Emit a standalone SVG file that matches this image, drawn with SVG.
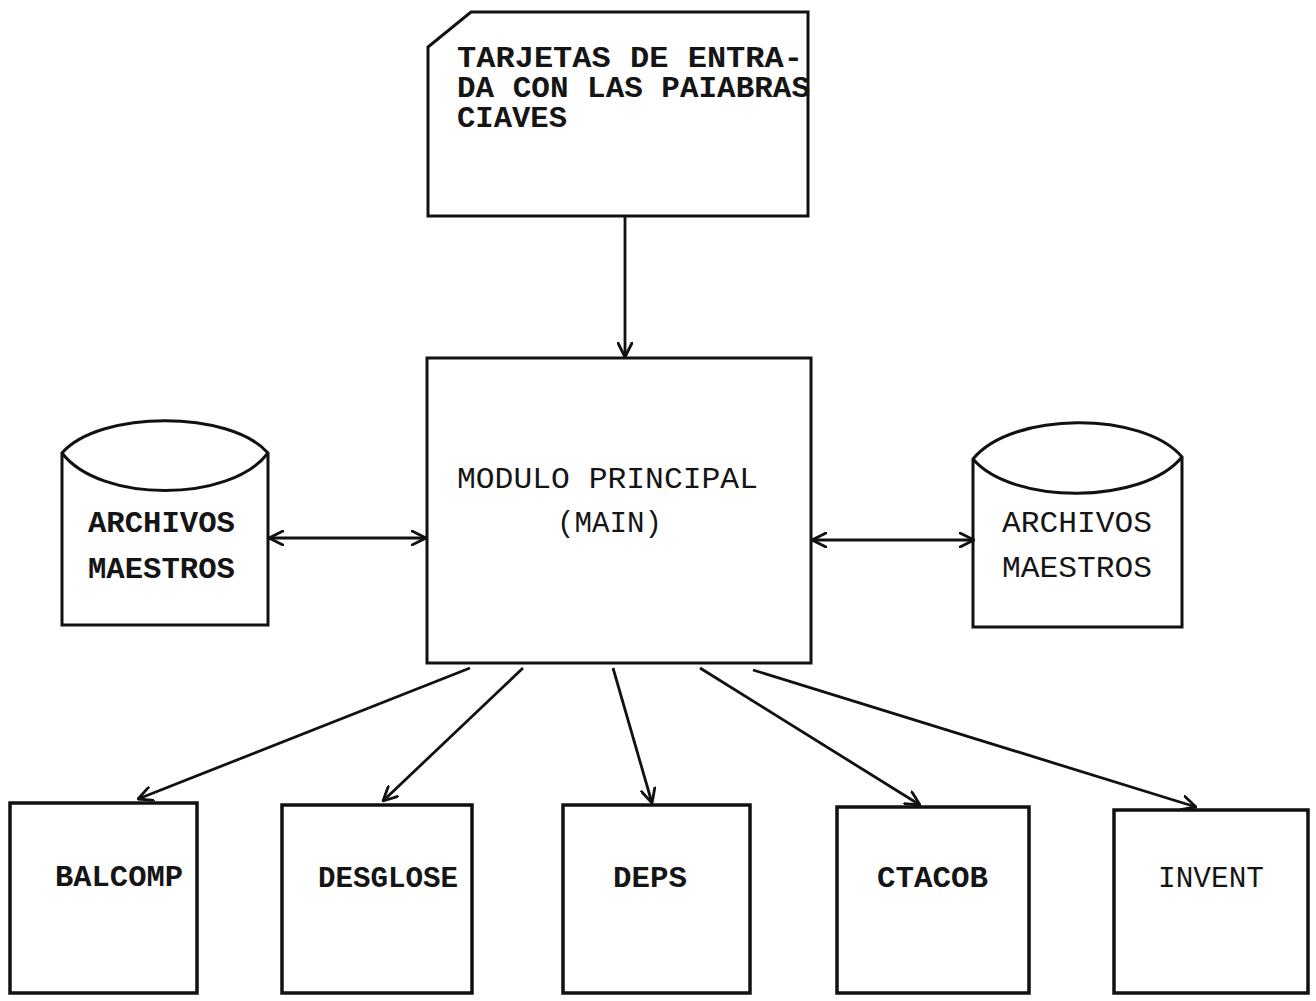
<svg xmlns="http://www.w3.org/2000/svg" width="1316" height="1001" viewBox="0 0 1316 1001">
  <style>
    .shape { fill: #ffffff; stroke: #111111; stroke-width: 3; stroke-linejoin: miter; }
    .box { fill: #ffffff; stroke: #111111; stroke-width: 3.5; }
    .lbl { font-family: "Liberation Mono", "DejaVu Sans Mono", monospace; font-size: 29px; fill: #151515; }
    .b { font-weight: bold; }
    .conn { stroke: #111111; stroke-width: 2.8; fill: none; }
  </style>
  <defs>
    <marker id="arrow" viewBox="0 0 16 16" refX="15" refY="8" markerWidth="16" markerHeight="16" markerUnits="userSpaceOnUse" orient="auto-start-reverse">
      <path d="M1,1 L15,8 L1,15" fill="none" stroke="#111111" stroke-width="2.8" stroke-linecap="round" stroke-linejoin="round"/>
    </marker>
  </defs>
  <rect width="1316" height="1001" fill="#ffffff"/>

  <!-- input card with cut corner -->
  <g id="tarjetas">
    <path class="shape" d="M471,12 L808,12 L808,216 L428,216 L428,47 Z"/>
    <text class="lbl b" x="457" y="67" textLength="346" lengthAdjust="spacingAndGlyphs">TARJETAS DE ENTRA-</text>
    <text class="lbl b" x="457" y="97" textLength="353" lengthAdjust="spacingAndGlyphs">DA CON LAS PAIABRAS</text>
    <text class="lbl b" x="457" y="127" textLength="110" lengthAdjust="spacingAndGlyphs">CIAVES</text>
  </g>

  <!-- main module -->
  <g id="main">
    <rect class="shape" x="427" y="358" width="384" height="305"/>
    <text class="lbl" x="457" y="488" textLength="301" lengthAdjust="spacingAndGlyphs">MODULO PRINCIPAL</text>
    <text class="lbl" x="557" y="532" textLength="105" lengthAdjust="spacingAndGlyphs">(MAIN)</text>
  </g>

  <!-- master files, left -->
  <g id="archivos-izq">
    <path class="shape" d="M62,453 C100,410 230,410 268,453 L268,625 L62,625 Z"/>
    <path class="shape" d="M62,453 C100,503 230,503 268,453" fill="none"/>
    <text class="lbl b" x="88" y="532" textLength="147" lengthAdjust="spacingAndGlyphs">ARCHIVOS</text>
    <text class="lbl b" x="88" y="578" textLength="147" lengthAdjust="spacingAndGlyphs">MAESTROS</text>
  </g>

  <!-- master files, right -->
  <g id="archivos-der">
    <path class="shape" d="M973,459 C1012,411 1143,411 1182,457 L1182,627 L973,627 Z"/>
    <path class="shape" d="M973,459 C1012,505 1143,505 1182,457" fill="none"/>
    <text class="lbl" x="1002" y="532" textLength="150" lengthAdjust="spacingAndGlyphs">ARCHIVOS</text>
    <text class="lbl" x="1002" y="577" textLength="150" lengthAdjust="spacingAndGlyphs">MAESTROS</text>
  </g>

  <!-- sub-modules -->
  <g id="balcomp">
    <rect class="box" x="10" y="803" width="187" height="190"/>
    <text class="lbl b" x="55" y="886" textLength="128" lengthAdjust="spacingAndGlyphs">BALCOMP</text>
  </g>
  <g id="desglose">
    <rect class="box" x="282" y="805" width="190" height="188"/>
    <text class="lbl b" x="318" y="887" textLength="140" lengthAdjust="spacingAndGlyphs">DESGLOSE</text>
  </g>
  <g id="deps">
    <rect class="box" x="563" y="805" width="187" height="188"/>
    <text class="lbl b" x="613" y="887" textLength="74" lengthAdjust="spacingAndGlyphs">DEPS</text>
  </g>
  <g id="ctacob">
    <rect class="box" x="837" y="807" width="192" height="186"/>
    <text class="lbl b" x="877" y="887" textLength="111" lengthAdjust="spacingAndGlyphs">CTACOB</text>
  </g>
  <g id="invent">
    <rect class="box" x="1114" y="810" width="194" height="183"/>
    <text class="lbl" x="1158" y="887" textLength="106" lengthAdjust="spacingAndGlyphs">INVENT</text>
  </g>

  <!-- connectors -->
  <g id="connectors">
    <line class="conn" x1="625" y1="216" x2="625" y2="357" marker-end="url(#arrow)"/>
    <line class="conn" x1="269" y1="538" x2="426" y2="538" marker-start="url(#arrow)" marker-end="url(#arrow)"/>
    <line class="conn" x1="812" y1="540" x2="974" y2="540" marker-start="url(#arrow)" marker-end="url(#arrow)"/>
    <line class="conn" x1="470" y1="668" x2="138" y2="799" marker-end="url(#arrow)"/>
    <line class="conn" x1="523" y1="668" x2="383" y2="801" marker-end="url(#arrow)"/>
    <line class="conn" x1="613" y1="668" x2="652" y2="803" marker-end="url(#arrow)"/>
    <line class="conn" x1="700" y1="668" x2="920" y2="805" marker-end="url(#arrow)"/>
    <line class="conn" x1="753" y1="670" x2="1196" y2="807" marker-end="url(#arrow)"/>
  </g>
</svg>
